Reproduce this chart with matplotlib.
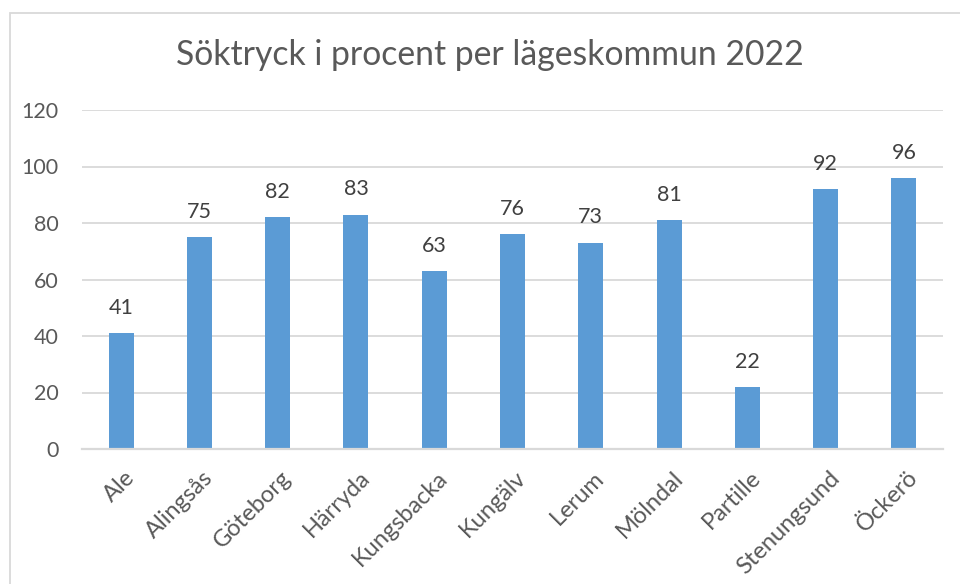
import matplotlib
matplotlib.use("Agg")
import matplotlib.pyplot as plt
from matplotlib.patches import Rectangle
import matplotlib.transforms as mtransforms

categories = ["Ale", "Alingsås", "Göteborg", "Härryda", "Kungsbacka", "Kungälv",
              "Lerum", "Mölndal", "Partille", "Stenungsund", "Öckerö"]
values = [41, 75, 82, 83, 63, 76, 73, 81, 22, 92, 96]
title = "Söktryck i procent per lägeskommun 2022"
yticks = [0, 20, 40, 60, 80, 100, 120]

plt.rcParams['font.family'] = ['Lato', 'DejaVu Sans']
TXT = '#595959'
GRID = '#d9d9d9'
BAR = '#5b9bd5'

W, H = 960, 584
fig = plt.figure(figsize=(W/100, H/100), dpi=100)
fig.patch.set_facecolor('white')

# chart border
fig.patches.append(Rectangle((9.5/W, -0.1), 1.2, 1 - 12.5/H + 0.1, transform=fig.transFigure,
                             fill=False, edgecolor=GRID, linewidth=1.3))

ax = fig.add_axes([82/W, 1 - 449/H, (943-82)/W, (449-110)/H])
x = list(range(len(categories)))
bars = ax.bar(x, values, width=0.32, color=BAR, zorder=3)
ax.set_xlim(-0.5, len(categories) - 0.5)
ax.set_ylim(0, 120)
ax.set_yticks(yticks)
ax.set_yticklabels([str(t) for t in yticks], fontsize=15.5, color=TXT)
ax.tick_params(axis='y', length=0, pad=17)
ax.tick_params(axis='x', length=0, pad=13)
ax.yaxis.grid(True, color=GRID, linewidth=1.3, zorder=0)
for s in ['top', 'right', 'left']:
    ax.spines[s].set_visible(False)
ax.spines['bottom'].set_color(GRID)
ax.spines['bottom'].set_linewidth(1.6)
ax.spines['bottom'].set_zorder(4)

ax.set_xticks(x)
ax.set_xticklabels(categories, rotation=45, ha='right', rotation_mode='anchor',
                   fontsize=17, color=TXT)
offset = mtransforms.ScaledTranslation(3/100, 0, fig.dpi_scale_trans)
for lab in ax.get_xticklabels():
    lab.set_transform(lab.get_transform() + offset)

for xi, v in zip(x, values):
    ax.annotate(str(v), (xi, v), xytext=(0, 11), textcoords='offset points',
                ha='center', va='bottom', fontsize=15.5, color='#404040')

fig.text(490/W, 1 - 55/H, title, ha='center', va='center', fontsize=24.3, color=TXT)

fig.savefig('out.png', dpi=100)
